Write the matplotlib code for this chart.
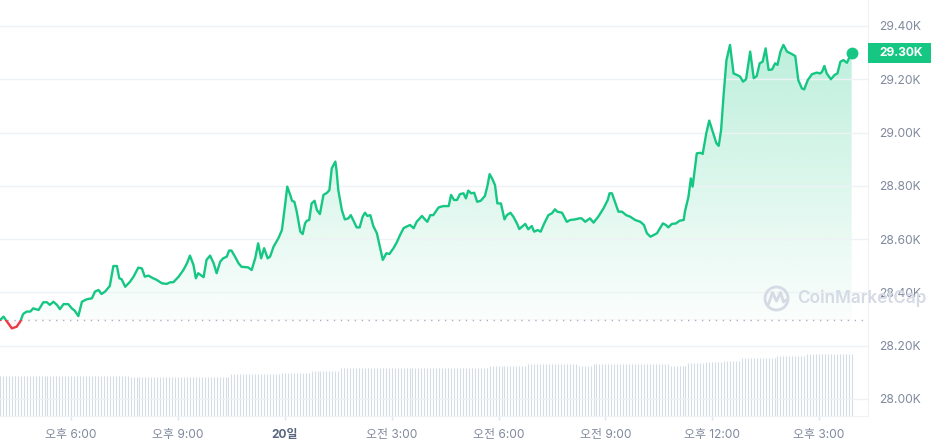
import numpy as np
import matplotlib
matplotlib.use("Agg")
import matplotlib.pyplot as plt
from matplotlib.patches import Polygon, Rectangle, Circle
from matplotlib.ticker import FuncFormatter
import matplotlib.transforms as mtransforms

plt.rcParams['font.family'] = ['Inter', 'Noto Sans CJK KR', 'DejaVu Sans']

# ---- data (minutes since 16:00 on day 19, price in USD) ----
minutes = [0, 6, 10, 20, 28, 34, 39, 45, 51, 56, 65, 73, 79, 84, 90, 96, 101, 107, 115, 121,
           126, 132, 138, 146, 155, 160, 166, 171, 177, 185, 191, 197, 201, 205, 211, 219,
           225, 233, 239, 244, 250, 258, 264, 273, 281, 287, 292, 301, 309, 315, 320, 326, 330, 334,
           343, 348, 354, 360, 365, 371, 376, 382, 386, 390, 396, 402, 407, 418, 424, 430, 435, 440,
           445, 451, 455,
           461, 469, 475, 480, 484, 489, 492, 496, 500, 506, 510, 514, 517, 521, 525, 530, 534, 539,
           545, 551, 555, 559, 565, 567, 570, 576, 581, 587, 591, 595, 601, 606, 611, 615, 619, 624,
           629, 635, 640, 645, 651, 656, 663, 669,
           674, 680, 685, 691, 697, 702, 711, 716, 720, 725, 730, 739, 747, 756, 760, 765, 770, 775,
           781, 785, 789, 794, 799, 804, 810, 817, 821, 825, 829, 834, 838, 844, 850, 854, 860, 865,
           871, 875,
           885, 890, 896, 900, 906, 911, 917, 924, 930, 935, 939, 947, 955, 961, 969, 976, 980, 986,
           994, 1000, 1008, 1017, 1024, 1027, 1031, 1037, 1042, 1048, 1055, 1062, 1070, 1079, 1085,
           1090, 1096, 1101, 1107, 1112, 1117, 1122, 1126, 1132, 1139, 1145, 1152,
           1154, 1160, 1164, 1167, 1174, 1180, 1184, 1190, 1195, 1201, 1207, 1211, 1215, 1219, 1224,
           1230, 1236, 1242, 1247, 1252, 1257, 1264, 1270, 1275, 1280, 1285, 1290, 1295, 1301, 1306,
           1310, 1315, 1320, 1326, 1334, 1340, 1345, 1351, 1355, 1361, 1368, 1376, 1382, 1385, 1389,
           1393, 1400, 1406, 1411, 1416, 1421, 1427, 1435]

prices = [28296, 28309, 28296, 28265, 28271, 28290, 28319, 28328, 28328, 28340, 28334, 28363, 28363,
          28353, 28365, 28353, 28337, 28356, 28356, 28340, 28331, 28311, 28365, 28374, 28378, 28403,
          28409, 28394, 28403, 28424, 28499, 28499, 28453, 28449, 28421, 28440,
          28459, 28493, 28490, 28459, 28463, 28453, 28447, 28434, 28432, 28438, 28438, 28459, 28484,
          28509, 28538, 28503, 28453, 28472, 28457, 28522, 28538, 28509, 28472, 28515, 28528, 28534,
          28557, 28557, 28534, 28509, 28496, 28494, 28484, 28528, 28584, 28528, 28566, 28528, 28534,
          28572, 28603, 28634, 28722, 28797, 28766, 28744, 28740, 28703, 28628, 28619, 28659, 28669,
          28672, 28734, 28744, 28709, 28694, 28766, 28774, 28784, 28866, 28891, 28859, 28784, 28709,
          28674, 28678, 28690, 28672, 28644, 28644, 28684, 28699, 28687, 28690, 28649, 28622, 28572,
          28522, 28547, 28544, 28566, 28590,
          28615, 28641, 28647, 28653, 28641, 28665, 28687, 28674, 28665, 28690, 28690, 28719, 28724,
          28724, 28766, 28747, 28747, 28769, 28772, 28753, 28782, 28772, 28774, 28740, 28744, 28762,
          28797, 28844, 28828, 28803, 28734, 28734, 28674, 28690, 28699, 28684, 28659, 28638,
          28657, 28637, 28649, 28628, 28634, 28628, 28659, 28690, 28697, 28712, 28703, 28699, 28665,
          28672, 28674, 28678, 28678, 28665, 28678, 28662, 28684, 28716, 28747, 28772, 28772, 28734,
          28703, 28703, 28690, 28684, 28672, 28665, 28653, 28622, 28609, 28615, 28622, 28641, 28659,
          28653, 28644, 28657, 28659, 28669, 28672,
          28703, 28759, 28828, 28797, 28922, 28924, 28920, 28997, 29045, 29003, 28960, 28950, 29010,
          29135, 29272, 29329, 29222, 29216, 29210, 29191, 29200, 29304, 29204, 29212, 29260, 29266,
          29316, 29235, 29237, 29260, 29254, 29304, 29329, 29304, 29295, 29287, 29197, 29166, 29162,
          29197, 29219, 29225, 29222, 29228, 29250, 29222, 29200, 29216, 29222, 29266, 29272, 29262,
          29300]

# 24h volume (billion USD) per 5-minute bar, given as runs: level and number of bars
vol_levels = [13.0, 12.6, 12.8, 13.55, 14.0, 14.6, 15.5, 16.25, 16.75, 16.4, 16.9, 16.25, 17.1,
              17.4, 18.0, 18.75, 19.5, 20.05]
vol_counts = [44, 20, 14, 17, 10, 10, 50, 13, 17, 5, 26, 6, 6, 6, 6, 12, 10, 16]
bar_step_min = 5

tick_minutes = [120, 300, 480, 660, 840, 1020, 1200, 1380]
tick_labels = ['오후 6:00', '오후 9:00', '20일', '오전 3:00', '오전 6:00', '오전 9:00', '오후 12:00', '오후 3:00']
price_ticks = [28000, 28200, 28400, 28600, 28800, 29000, 29200, 29400]
watermark = 'CoinMarketCap'

GREEN = '#16c784'
RED = '#ea3943'
GRID = '#eff2f5'
LABEL = '#808a9d'

W, H = 931, 445
fig = plt.figure(figsize=(W / 100, H / 100), dpi=100)
fig.patch.set_facecolor('white')

ax_l, ax_w = 0.0, 868 / W
ax_b, ax_h = (H - 416) / H, 416 / H
ax = fig.add_axes([ax_l, ax_b, ax_w, ax_h])
ax.set_xlim(0, 1462.5)
ax.set_ylim(27936, 29497.6)
ax.patch.set_visible(False)

# ---- volume bars on a twin axis (behind) ----
vol = np.repeat(vol_levels, vol_counts)
vol_t = np.arange(len(vol)) * bar_step_min
axv = ax.twinx()
axv.set_ylim(0, 135.2)
axv.vlines(vol_t, 0, vol, colors='#d6dce6', linewidth=0.8, antialiased=True)
axv.yaxis.set_visible(False)
for s in axv.spines.values():
    s.set_visible(False)
axv.set_zorder(0)
ax.set_zorder(1)

# ---- grid & axes styling ----
ax.set_yticks(price_ticks)
ax.yaxis.tick_right()
ax.yaxis.set_major_formatter(FuncFormatter(lambda v, p: f'{v / 1000:.2f}K'))
ax.tick_params(axis='y', length=0, pad=7.9, labelsize=8.7, labelcolor=LABEL)
ax.grid(axis='y', color=GRID, lw=1.0, zorder=0)
ax.set_xticks(tick_minutes)
ax.set_xticklabels(tick_labels)
ax.tick_params(axis='x', length=3, width=1, color='#dfe3ea', pad=6.5, labelsize=8.6, labelcolor=LABEL)
lbls = ax.get_xticklabels()
lbls[2].set_fontweight('bold')
lbls[2].set_color('#58667e')
for side in ['left', 'top']:
    ax.spines[side].set_visible(False)
ax.spines['right'].set_color(GRID)
ax.spines['bottom'].set_color(GRID)

t = np.array(minutes, dtype=float)
p = np.array(prices, dtype=float)
base = p[0]

# ---- gradient fills ----
verts = [(t[0], base)] + list(zip(t, p)) + [(t[-1], base)]
poly = Polygon(verts, closed=True, transform=ax.transData, facecolor='none', edgecolor='none')
ax.add_patch(poly)
n = 256
g = np.zeros((n, 1, 4))
g[:, 0, 0:3] = matplotlib.colors.to_rgb(GREEN)
g[:, 0, 3] = np.linspace(0.30, 0.02, n)
im = ax.imshow(g, extent=[t[0], t[-1], base, 29400], origin='upper', aspect='auto',
               interpolation='bilinear', zorder=1)
im.set_clip_path(poly)
r = np.zeros((n, 1, 4))
r[:, 0, 0:3] = matplotlib.colors.to_rgb(RED)
r[:, 0, 3] = np.linspace(0.03, 0.12, n)
im2 = ax.imshow(r, extent=[t[0], t[-1], base - 80, base], origin='upper', aspect='auto',
                interpolation='bilinear', zorder=1)
im2.set_clip_path(poly)
ax.set_xlim(0, 1462.5)
ax.set_ylim(27936, 29497.6)

# baseline (open price)
ax.axhline(base, color='#a7b1c2', lw=1.0, ls=(0, (1, 4)), zorder=2)

# ---- price line, green above open, red below ----
up_clip = Rectangle((-1000, base), 5000, 10000, transform=ax.transData)
dn_clip = Rectangle((-1000, base - 10000), 5000, 10000, transform=ax.transData)
lg, = ax.plot(t, p, color=GREEN, lw=1.7, solid_joinstyle='round', solid_capstyle='round', zorder=3)
lg.set_clip_path(up_clip)
lr, = ax.plot(t, p, color=RED, lw=1.7, solid_joinstyle='round', solid_capstyle='round', zorder=3)
lr.set_clip_path(dn_clip)
ax.plot([t[-1]], [p[-1]], 'o', ms=7.5, color=GREEN, zorder=4, clip_on=False)

# ---- current price tag ----
trans = mtransforms.blended_transform_factory(ax.transAxes, ax.transData)
px_to_price = (29497.6 - 27936) / 416
ax.add_patch(Rectangle((1.0, p[-1] - 10.5 * px_to_price), 63 / 868, 20 * px_to_price,
                       transform=trans, facecolor=GREEN, edgecolor='none', clip_on=False, zorder=5))
ax.text(1.0 + 11 / 868, p[-1], f'{p[-1] / 1000:.2f}K', transform=trans, ha='left', va='center',
        color='white', fontsize=8.7, fontweight='bold', clip_on=False, zorder=6)

# ---- watermark ----
ov = fig.add_axes([0, 0, 1, 1])
ov.set_xlim(0, W)
ov.set_ylim(H, 0)
ov.axis('off')
ov.patch.set_visible(False)
ov.set_zorder(2)
WM = '#d5dae4'
ov.add_patch(Circle((776.5, 298.5), 11.5, fill=False, lw=2.0, ec=WM))
ov.plot([768.5, 772.5, 776.5, 780.5, 783.5, 786],
        [304, 292.5, 301, 292.5, 302, 300], color=WM, lw=2.0, solid_joinstyle='round',
        solid_capstyle='round')
ov.text(797, 298.5, watermark, fontsize=12.3, color=WM, fontweight='semibold', ha='left', va='center')

fig.savefig('out.png', dpi=100, facecolor='white')
